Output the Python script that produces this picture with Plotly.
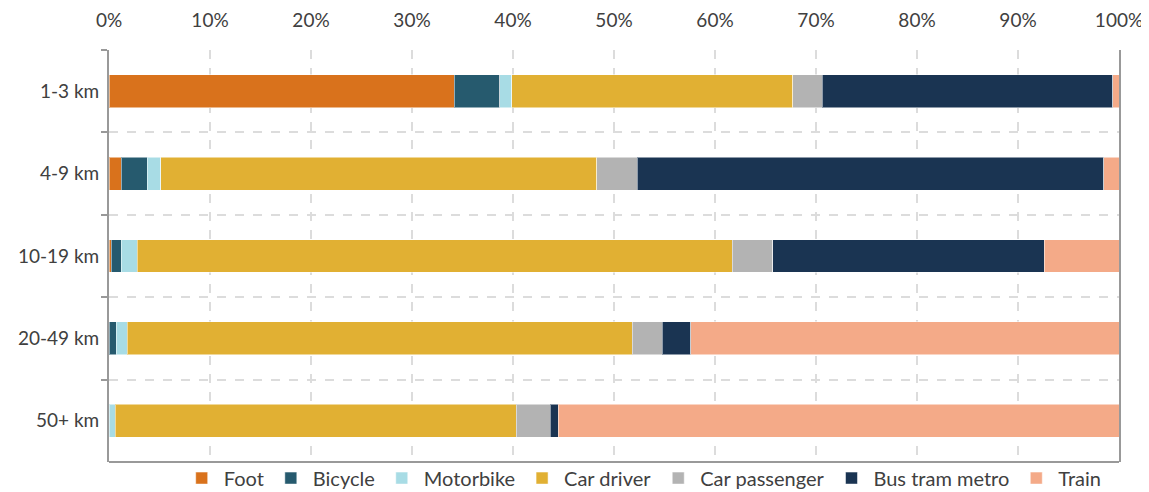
import plotly.graph_objects as go

categories = ["1-3 km", "4-9 km", "10-19 km", "20-49 km", "50+ km"]
foot = [34.2, 1.2, 0.2, 0.0, 0.0]
bicycle = [4.5, 2.6, 1.0, 0.7, 0.0]
motorbike = [1.2, 1.3, 1.6, 1.1, 0.6]
car_driver = [27.8, 43.2, 58.9, 50.0, 39.7]
car_passenger = [2.9, 4.0, 4.0, 3.0, 3.4]
bus_tram_metro = [28.8, 46.2, 26.9, 2.8, 0.8]
train = [0.6, 1.5, 7.4, 42.4, 55.5]

series = [
    ("Foot", foot, "#D9721C"),
    ("Bicycle", bicycle, "#265A6E"),
    ("Motorbike", motorbike, "#A8DCE5"),
    ("Car driver", car_driver, "#E1B033"),
    ("Car passenger", car_passenger, "#B3B3B3"),
    ("Bus tram metro", bus_tram_metro, "#1A3452"),
    ("Train", train, "#F4AA88"),
]

fig = go.Figure()
for name, vals, color in series:
    fig.add_trace(go.Bar(
        y=categories, x=vals, name=name, orientation="h",
        marker=dict(color=color, line=dict(color="rgba(255,255,255,0.5)", width=1)),
    ))

font_family = "Lato, Open Sans, DejaVu Sans, sans-serif"
fig.update_layout(
    barmode="stack",
    bargap=0.6,
    width=1141, height=484,
    margin=dict(l=101, r=30, t=42, b=30, autoexpand=False),
    plot_bgcolor="white", paper_bgcolor="white",
    font=dict(family=font_family, size=19, color="#404040"),
    showlegend=True,
    legend=dict(orientation="h", x=0.07, y=-0.039, xanchor="left", yanchor="middle",
                bgcolor="rgba(0,0,0,0)",
                font=dict(size=20, color="#404040"), traceorder="normal",
                itemwidth=34, tracegroupgap=0),
    xaxis=dict(side="top", range=[0, 100], dtick=10, ticksuffix="%",
               showgrid=True, gridcolor="#DCDCDC", griddash="dash", gridwidth=1.5,
               zeroline=False, showline=False, ticks="", ticklabelstandoff=18,
               automargin=False, tickfont=dict(size=19)),
    yaxis=dict(autorange="reversed", tickson="boundaries", ticks="outside", ticklen=6,
               tickcolor="#999999", tickwidth=2,
               showgrid=True, gridcolor="#DCDCDC", griddash="dash", gridwidth=1.5,
               showline=True, linecolor="#999999", linewidth=2, mirror=True,
               automargin=False, tickfont=dict(size=19), ticklabelstandoff=4),
    shapes=[dict(type="line", xref="paper", yref="paper", x0=0, x1=1, y0=0, y1=0,
                 line=dict(color="#999999", width=2))],
)

fig.write_html("out.html")
